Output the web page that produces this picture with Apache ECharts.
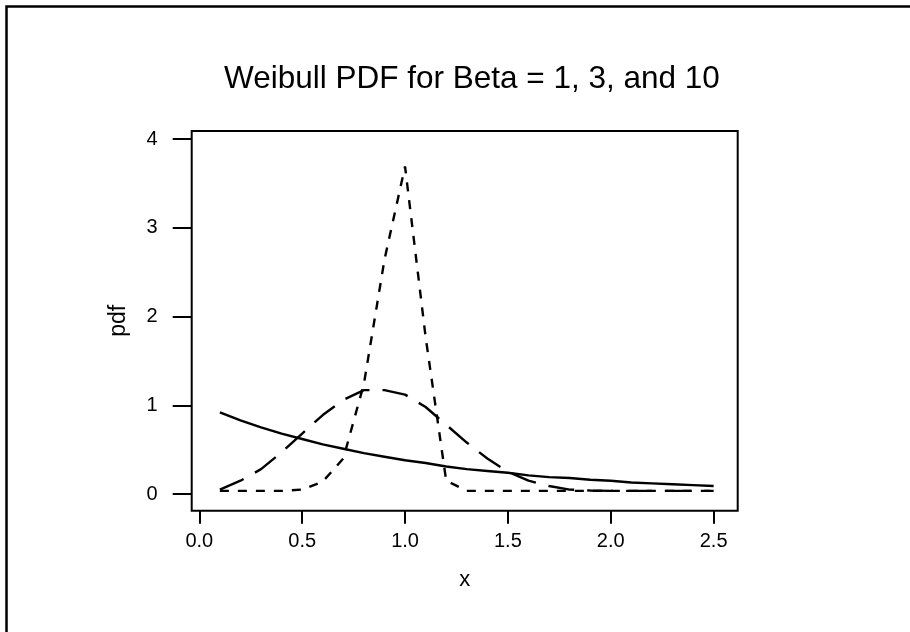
<!DOCTYPE html>
<html>
<head>
<meta charset="utf-8">
<script src="https://cdn.jsdelivr.net/npm/echarts@6/dist/echarts.min.js"></script>
<style>html,body{margin:0;padding:0;background:#fff}#c{width:910px;height:632px}</style>
</head>
<body>
<div id="c"></div>
<script>
var xValues = [0.1,0.2,0.3,0.4,0.5,0.6,0.7,0.8,0.9,1.0,1.1,1.2,1.3,1.4,1.5,1.6,1.7,1.8,1.9,2.0,2.1,2.2,2.3,2.4,2.5];
var beta1 = [0.92,0.83,0.75,0.68,0.62,0.56,0.51,0.46,0.42,0.38,0.35,0.31,0.28,0.26,0.24,0.21,0.19,0.18,0.16,0.15,0.13,0.12,0.11,0.10,0.09];
var beta3 = [0.05,0.15,0.28,0.47,0.68,0.89,1.06,1.17,1.17,1.12,0.98,0.78,0.58,0.40,0.25,0.15,0.09,0.05,0.04,0.035,0.035,0.035,0.035,0.035,0.035];
var beta10 = [0.035,0.035,0.035,0.035,0.05,0.14,0.40,1.24,2.64,3.69,1.77,0.15,0.035,0.035,0.035,0.035,0.035,0.035,0.035,0.035,0.035,0.035,0.035,0.035,0.035];
var xTicks = [0.0,0.5,1.0,1.5,2.0,2.5];
var yTicks = [0,1,2,3,4];
var titleText = 'Weibull PDF for Beta = 1, 3, and 10';

function pairs(ys){ return xValues.map(function(x,i){ return [x, ys[i]]; }); }
var FONT = '"Liberation Sans", Arial, sans-serif';
var chart = echarts.init(document.getElementById('c'), null, {renderer:'canvas'});
chart.setOption({
  animation:false,
  backgroundColor:'#fff',
  title:{text:titleText,left:219,top:58,textStyle:{fontFamily:FONT,fontWeight:'normal',fontSize:31.5,color:'#000'}},
  graphic:[{type:'rect',shape:{x:6.5,y:6.5,width:1000,height:1000},style:{fill:'none',stroke:'#000',lineWidth:2.5},silent:true}],
  grid:{left:191.7,top:131,right:172.3,bottom:121.3,show:true,borderColor:'#000',borderWidth:2,backgroundColor:'transparent'},
  xAxis:{type:'value',min:-0.037,max:2.617,
    name:'x',nameLocation:'middle',nameGap:58,nameTextStyle:{fontFamily:FONT,fontSize:22,color:'#000'},
    axisLine:{show:false,onZero:false},splitLine:{show:false},
    axisTick:{show:true,inside:false,length:13,lineStyle:{color:'#000',width:2},customValues:xTicks},
    axisLabel:{fontFamily:FONT,fontSize:20,color:'#000',margin:21,customValues:xTicks,formatter:function(v){return v.toFixed(1);}}},
  yAxis:{type:'value',min:-0.188,max:4.09,
    name:'pdf',nameLocation:'middle',nameGap:62,nameTextStyle:{fontFamily:FONT,fontSize:23,color:'#000'},
    axisLine:{show:false,onZero:false},splitLine:{show:false},
    axisTick:{show:true,inside:false,length:19,lineStyle:{color:'#000',width:2},customValues:yTicks},
    axisLabel:{fontFamily:FONT,fontSize:20,color:'#000',margin:34,customValues:yTicks,formatter:function(v){return String(Math.round(v));}}},
  series:[
    {type:'line',name:'Beta = 1',data:pairs(beta1),showSymbol:false,lineStyle:{color:'#000',width:2.4,type:'solid'}},
    {type:'line',name:'Beta = 3',data:pairs(beta3),showSymbol:false,lineStyle:{color:'#000',width:2.4,type:[26,13]}},
    {type:'line',name:'Beta = 10',data:pairs(beta10),showSymbol:false,lineStyle:{color:'#000',width:2.4,type:[9,9]}}
  ]
});
</script>
</body>
</html>
